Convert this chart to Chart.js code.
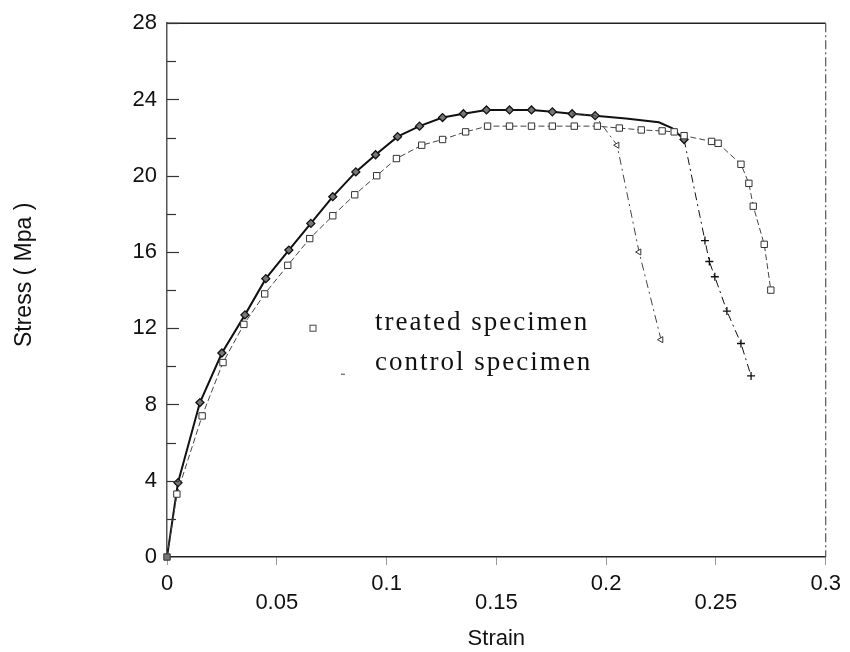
<!DOCTYPE html>
<html>
<head>
<meta charset="utf-8">
<script src="https://cdn.jsdelivr.net/npm/chart.js@4.4.1/dist/chart.umd.min.js"></script>
<style>
  html, body { margin: 0; padding: 0; background: #fff; }
  #wrap { width: 850px; height: 652px; }
</style>
</head>
<body>
<div id="wrap"><canvas id="c" width="850" height="652"></canvas></div>
<script>
// ---- data ----
const xTickLabels = ['0', '0.05', '0.1', '0.15', '0.2', '0.25', '0.3'];
const yTickLabels = ['0', '4', '8', '12', '16', '20', '24', '28'];

const treatedStrain = [0, 0.0045, 0.016, 0.0255, 0.035, 0.0445, 0.055, 0.065, 0.0755, 0.0855, 0.0955, 0.1045, 0.116, 0.1255, 0.136, 0.146, 0.156, 0.166, 0.1755, 0.1855, 0.196, 0.206, 0.216, 0.2255, 0.231, 0.2355, 0.248, 0.251, 0.2614, 0.265, 0.267, 0.272, 0.275];
const treatedStress = [0, 3.3, 7.4, 10.2, 12.2, 13.8, 15.3, 16.7, 17.9, 19.0, 20.0, 20.9, 21.6, 21.9, 22.3, 22.6, 22.6, 22.6, 22.6, 22.6, 22.6, 22.5, 22.4, 22.35, 22.3, 22.1, 21.8, 21.7, 20.6, 19.6, 18.4, 16.4, 14.0];

const controlAStrain = [0, 0.005, 0.015, 0.025, 0.0355, 0.045, 0.0555, 0.0655, 0.0755, 0.086, 0.095, 0.105, 0.115, 0.1255, 0.135, 0.1455, 0.156, 0.166, 0.1755, 0.1845, 0.195, 0.209, 0.224, 0.23, 0.2355, 0.245, 0.247, 0.2495, 0.255, 0.2614, 0.266];
const controlAStress = [0, 3.9, 8.1, 10.7, 12.7, 14.6, 16.1, 17.5, 18.9, 20.2, 21.1, 22.05, 22.6, 23.05, 23.25, 23.45, 23.45, 23.45, 23.35, 23.25, 23.15, 23.0, 22.8, 22.5, 21.9, 16.6, 15.5, 14.7, 12.9, 11.2, 9.5];

const controlBStrain = [0.1845, 0.195, 0.205, 0.215, 0.225];
const controlBStress = [23.25, 23.15, 21.6, 16.0, 11.4];

const legendLabels = ['treated specimen', 'control specimen'];
const yTitle = 'Stress ( Mpa )';
const xTitle = 'Strain';

function pts(xs, ys) { return xs.map((x, i) => ({ x: x, y: ys[i] })); }

const sansFamily = '"Liberation Sans", Arial, sans-serif';

const frameAndTicks = {
  id: 'frameAndTicks',
  afterDraw(chart) {
    const { ctx, chartArea: a, scales } = chart;
    const ys = scales.y;
    ctx.save();
    // top frame line
    ctx.strokeStyle = '#222'; ctx.lineWidth = 1.5; ctx.setLineDash([]);
    ctx.beginPath(); ctx.moveTo(a.left, a.top); ctx.lineTo(a.right, a.top); ctx.stroke();
    // right frame line (dash-dot)
    ctx.strokeStyle = '#555'; ctx.lineWidth = 1.2; ctx.setLineDash([9, 3, 2, 3]);
    ctx.beginPath(); ctx.moveTo(a.right, a.top); ctx.lineTo(a.right, a.bottom); ctx.stroke();
    // inner tick marks on the y axis
    ctx.setLineDash([]); ctx.strokeStyle = '#333'; ctx.lineWidth = 1.2;
    for (let v = 2; v <= 28; v += 2) {
      const y = Math.round(ys.getPixelForValue(v)) + 0.5;
      ctx.beginPath(); ctx.moveTo(a.left, y); ctx.lineTo(a.left + (v % 4 === 0 ? 12 : 9), y); ctx.stroke();
    }
    // y axis title
    ctx.save();
    ctx.translate(25, ys.getPixelForValue(14.8));
    ctx.rotate(-Math.PI / 2);
    ctx.fillStyle = '#111';
    ctx.font = '23px ' + sansFamily;
    ctx.textAlign = 'center';
    ctx.textBaseline = 'middle';
    ctx.fillText(yTitle, 0, 0);
    ctx.restore();
    // legend inside the plot
    const lx = a.left + 208, ly1 = a.top + 307, ly2 = a.top + 347;
    ctx.strokeStyle = '#444'; ctx.lineWidth = 1;
    ctx.strokeRect(a.left + 143, a.top + 302, 6, 6);
    ctx.beginPath(); ctx.moveTo(a.left + 174, a.top + 351); ctx.lineTo(a.left + 178, a.top + 351); ctx.stroke();
    ctx.fillStyle = '#111';
    ctx.font = '27px "Liberation Serif", "Times New Roman", serif';
    ctx.textBaseline = 'alphabetic';
    ctx.textAlign = 'left';
    try { ctx.letterSpacing = '2px'; } catch (e) {}
    ctx.fillText(legendLabels[0], lx, ly1);
    ctx.fillText(legendLabels[1], lx, ly2);
    ctx.restore();
  }
};

const tickFont = { family: sansFamily, size: 22, lineHeight: 0.88 };

new Chart(document.getElementById('c'), {
  type: 'line',
  data: {
    datasets: [
      {
        label: legendLabels[0],
        data: pts(treatedStrain, treatedStress),
        clip: false,
        borderColor: '#444',
        borderWidth: 1,
        borderDash: [6, 3],
        pointStyle: 'rect',
        pointRadius: 4.5,
        pointBorderWidth: 1,
        pointBorderColor: '#333',
        pointBackgroundColor: ctx => (ctx.dataIndex === 0 ? '#777' : '#fff'),
        tension: 0
      },
      {
        label: legendLabels[1] + ' B',
        data: pts(controlBStrain, controlBStress),
        borderColor: '#444',
        borderWidth: 1,
        borderDash: [8, 4, 2, 4],
        pointStyle: 'triangle',
        rotation: -90,
        pointRadius: ctx => (ctx.dataIndex < 2 ? 0 : 3.5),
        pointBorderWidth: 1,
        pointBorderColor: '#333',
        pointBackgroundColor: '#fff',
        tension: 0
      },
      {
        label: legendLabels[1],
        data: pts(controlAStrain, controlAStress),
        borderColor: '#111',
        borderWidth: 2,
        segment: {
          borderDash: ctx => (ctx.p0.parsed.x >= 0.2355 ? [8, 4, 2, 4] : undefined),
          borderWidth: ctx => (ctx.p0.parsed.x >= 0.2355 ? 1 : 2)
        },
        pointStyle: ctx => (ctx.parsed && ctx.parsed.x > 0.24 ? 'cross' : 'rectRot'),
        pointRadius: ctx => {
          const x = ctx.parsed ? ctx.parsed.x : 0;
          if (ctx.dataIndex === 0) return 0;
          return (x > 0.2 && x < 0.235) ? 0 : 4;
        },
        pointBorderWidth: 1.3,
        pointBorderColor: '#111',
        pointBackgroundColor: '#777',
        tension: 0
      }
    ]
  },
  options: {
    responsive: false,
    animation: false,
    layout: { padding: { left: 0, right: 23, top: 20, bottom: 0 } },
    plugins: { legend: { display: false }, tooltip: { enabled: false } },
    scales: {
      x: {
        type: 'linear',
        min: 0, max: 0.3,
        afterFit: s => { s.height = 95; },
        ticks: {
          stepSize: 0.05,
          color: '#111',
          font: tickFont,
          padding: 9,
          maxRotation: 0,
          autoSkip: false,
          callback: (v, i) => (i % 2 ? ['', xTickLabels[i]] : xTickLabels[i])
        },
        grid: { drawOnChartArea: false, drawTicks: true, tickLength: 8, color: '#999', lineWidth: 1 },
        border: { color: '#222', width: 1.5 },
        title: { display: true, text: xTitle, color: '#111', font: { family: sansFamily, size: 22 }, padding: { top: 10, bottom: 0 } }
      },
      y: {
        type: 'linear',
        min: 0, max: 28,
        afterFit: s => { s.width = 167; },
        ticks: {
          stepSize: 4,
          color: '#111',
          font: { family: sansFamily, size: 22 },
          padding: 10,
          callback: (v, i) => yTickLabels[i]
        },
        grid: { drawOnChartArea: false, drawTicks: false },
        border: { color: '#555', width: 1.5, dash: [5, 2] },
        title: { display: false }
      }
    }
  },
  plugins: [frameAndTicks]
});
</script>
</body>
</html>
